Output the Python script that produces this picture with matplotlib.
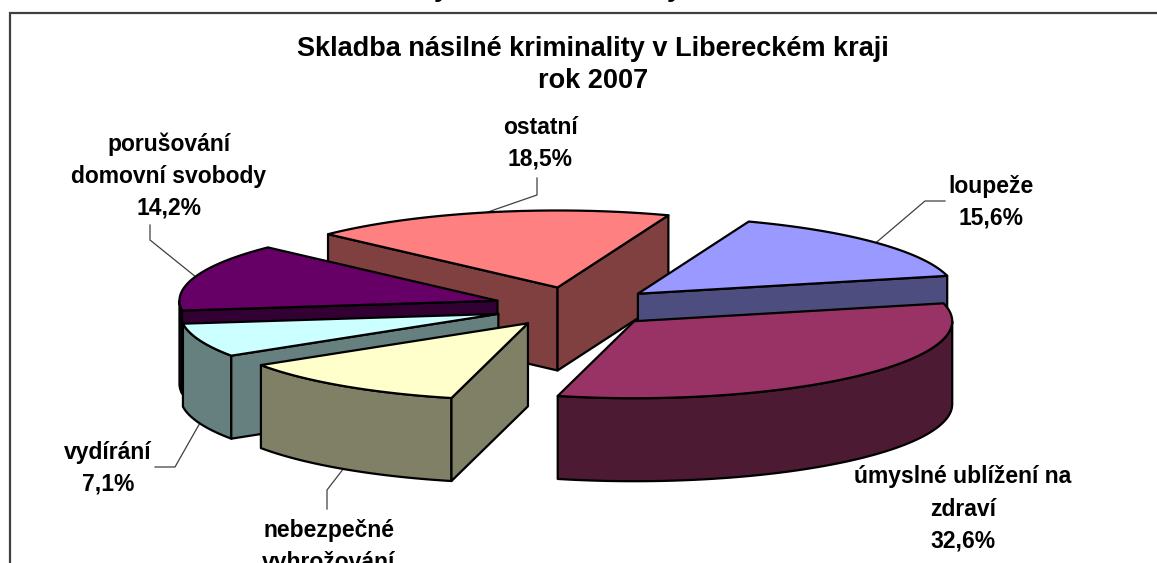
import numpy as np
import matplotlib

matplotlib.use("Agg")
import matplotlib.pyplot as plt
from matplotlib.patches import Polygon

plt.rcParams["font.family"] = ["Liberation Sans", "DejaVu Sans"]

categories = [
    "loupeže",
    "úmyslné ublížení na\nzdraví",
    "nebezpečné\nvyhrožování",
    "vydírání",
    "porušování\ndomovní svobody",
    "ostatní",
]
values = [15.6, 32.6, 12.0, 7.1, 14.2, 18.5]
top_colors = ["#9999FF", "#993366", "#FFFFCC", "#CCFFFF", "#660066", "#FF8080"]
side_colors = ["#4D4D80", "#4D1A33", "#808066", "#668080", "#330033", "#804040"]
# back to front, index into the lists above
draw_order = [5, 0, 4, 3, 2, 1]
label_pos = [(991, 202), (963, 509), (329, 562), (108, 468), (169, 176), (540, 143)]
# leader bends, the first point comes from the slice itself
leaders = {
    0: [(925, 201), (945, 201)],
    2: [(327, 490), (327, 509)],
    3: [(175, 467), (155, 467)],
    4: [(150, 240), (150, 225)],
    5: [(537, 195), (537, 178)],
}

cx, cy = 576, 307
rx, ry = 318, 77
depth = 83
explode = 0.26
first_angle = 20.4

fig = plt.figure(figsize=(11.57, 5.63), dpi=100)
ax = fig.add_axes([0, 0, 1, 1])
ax.set_xlim(0, 1157)
ax.set_ylim(563, 0)
ax.axis("off")


def pt(theta, r=1.0):
    # theta in degrees, clockwise from the top of the ellipse
    t = np.radians(theta)
    return np.array([rx * r * np.sin(t), -ry * r * np.cos(t)])


def arc(a, b, ox, oy):
    th = np.linspace(a, b, 80)
    t = np.radians(th)
    return np.column_stack([ox + rx * np.sin(t), oy - ry * np.cos(t)])


def face(points, color, z):
    ax.add_patch(Polygon(points, closed=True, facecolor=color, edgecolor="black",
                         linewidth=1.6, joinstyle="round", zorder=z))


def extrude(top):
    return np.vstack([top, top[::-1] + [0, depth]])


starts = first_angle + np.concatenate([[0], np.cumsum(values)[:-1]]) * 3.6
ends = starts + np.array(values) * 3.6
mids = (starts + ends) / 2
origins = [np.array([cx, cy]) + explode * pt(m) for m in mids]

z = 2
for i in draw_order:
    a, b = starts[i], ends[i]
    ox, oy = origins[i]
    # outer wall, only the part facing us
    for lo, hi in [(90, 270), (450, 630)]:
        s, e = max(a, lo), min(b, hi)
        if e > s:
            face(extrude(arc(s, e, ox, oy)), side_colors[i], z)
    # cut faces, only if they turn towards the viewer
    for angle, normal in [(a, a - 90), (b, b + 90)]:
        if -np.cos(np.radians(normal)) > 0:
            edge = np.array([[ox, oy], [ox, oy] + pt(angle)])
            face(extrude(edge), side_colors[i], z)
    face(np.vstack([[ox, oy], arc(a, b, ox, oy)]), top_colors[i], z)
    z += 1

for i, bends in leaders.items():
    start = origins[i] + pt(mids[i])
    if -np.cos(np.radians(mids[i])) > 0:
        start = start + [0, depth]
    pts = np.vstack([start, bends])
    ax.plot(pts[:, 0], pts[:, 1], color="#404040", lw=0.9, zorder=1)

for name, v, (x, y) in zip(categories, values, label_pos):
    text = name + "\n" + f"{v:.1f}".replace(".", ",") + "%"
    ax.text(x, y, text, ha="center", va="center", fontsize=16.5, fontweight="bold",
            linespacing=1.5, color="black", zorder=20)

ax.text(593, 65, "Skladba násilné kriminality v Libereckém kraji\nrok 2007",
        ha="center", va="center", fontsize=19.5, fontweight="bold", linespacing=1.33)

# tails of the cropped heading above the frame
for x in [441, 674]:
    ax.text(x, -3, "y", ha="center", va="baseline", fontsize=19, fontweight="bold")

# chart frame, cut off by the image on the right and at the bottom
ax.plot([10, 10, 1157], [563, 13, 13], color="#404040", lw=1.6, zorder=1,
        solid_joinstyle="miter")

fig.savefig("out.png", dpi=100)
